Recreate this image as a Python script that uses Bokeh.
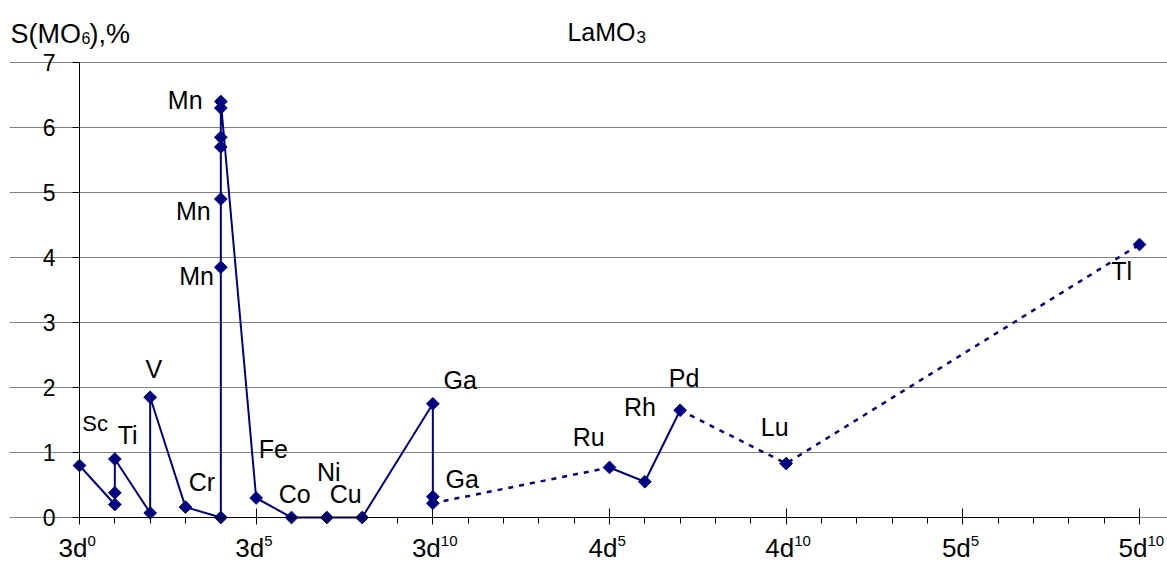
import numpy as np
from bokeh.plotting import figure
from bokeh.models import ColumnDataSource, FixedTicker, Range1d, LinearAxis, Grid
from bokeh.core.properties import value
from bokeh.embed import file_html
from bokeh.resources import INLINE

# ---------------- data ----------------
# position on the d-electron configuration axis (0 = 3d0 ... 30 = 5d10)
config_pos = [0, 1, 1, 1, 2, 2, 3, 4, 4, 4, 4, 4, 4, 4, 5, 6, 7, 8, 10, 10, 10, 15, 16, 17, 20, 30]
s_mo6 = [0.80, 0.20, 0.38, 0.90, 0.07, 1.85, 0.16, 0.00, 3.85, 4.90, 5.70, 5.85, 6.30, 6.40,
         0.30, 0.00, 0.00, 0.00, 1.75, 0.32, 0.22, 0.77, 0.55, 1.65, 0.83, 4.20]
# style of the link between consecutive points
link_style = ["solid"] * 20 + ["dotted"] + ["solid"] * 2 + ["dotted"] * 2

x_tick_pos = [0, 5, 10, 15, 20, 25, 30]
x_tick_main = ["3d", "3d", "3d", "4d", "4d", "5d", "5d"]
x_tick_sup = ["0", "5", "10", "5", "10", "5", "10"]
y_ticks = [0, 1, 2, 3, 4, 5, 6, 7]

elem_text = ["Sc", "Ti", "V", "Cr", "Mn", "Mn", "Mn", "Fe", "Co", "Ni", "Cu",
             "Ga", "Ga", "Ru", "Rh", "Pd", "Lu", "Tl"]
# left edge / vertical centre of each element label, in data units
elem_x = [0.08, 1.08, 1.87, 3.09, 2.50, 2.73, 2.82, 5.07, 5.64, 6.72, 7.08,
          10.30, 10.36, 13.96, 15.41, 16.68, 19.28, 29.20]
elem_y = [1.45, 1.27, 2.29, 0.55, 6.42, 4.71, 3.71, 1.05, 0.36, 0.70, 0.36,
          2.12, 0.59, 1.24, 1.70, 2.15, 1.39, 3.80]
elem_size = ["22px"] + ["25px"] * 17

# ---------------- layout / style ----------------
NAVY = "#000080"
FONT = "Liberation Sans"
W, H = 1167, 562
BORDER_L, BORDER_T = 9, 12
AX_X0, AX_X1 = 79, 1139      # pixel columns of x = 0 and x = 30
AX_Y0, AX_Y7 = 517, 62       # pixel rows of y = 0 and y = 7
kx = (AX_X1 - AX_X0) / 30.0
ky = (AX_Y0 - AX_Y7) / 7.0
x_rng = Range1d(-(AX_X0 - BORDER_L) / kx, 30 + (W - AX_X1) / kx)
y_rng = Range1d(-(H - AX_Y0) / ky, 7 + (AX_Y7 - BORDER_T) / ky)

p = figure(width=W, height=H, output_backend="svg", toolbar_location=None,
           x_range=x_rng, y_range=y_rng,
           x_axis_location=None, y_axis_location=None,
           min_border_left=BORDER_L, min_border_right=0, min_border_top=BORDER_T,
           min_border_bottom=0)
p.outline_line_color = None
p.background_fill_color = "white"
p.border_fill_color = "white"
p.xgrid.visible = False
p.ygrid.visible = False

# y axis, fixed at x = 0
yax = LinearAxis(ticker=FixedTicker(ticks=y_ticks), bounds=(0, 7), fixed_location=0)
yax.axis_line_color = "black"
yax.major_tick_line_color = "black"
yax.major_tick_in = 0
yax.major_tick_out = 7
yax.minor_tick_line_color = None
yax.major_label_text_color = None
yax.major_label_standoff = 0
p.add_layout(yax, "left")

# x axis, fixed at y = 0 (placed in the top panel, so "out" points up)
xax = LinearAxis(ticker=FixedTicker(ticks=x_tick_pos, minor_ticks=list(range(0, 31))),
                 bounds=(0, 30), fixed_location=0)
xax.axis_line_color = "black"
xax.major_tick_line_color = "black"
xax.major_tick_out = 9
xax.major_tick_in = 7
xax.minor_tick_line_color = "black"
xax.minor_tick_out = 0
xax.minor_tick_in = 6
xax.major_label_text_color = None
xax.major_label_standoff = 0
p.add_layout(xax, "above")

grid = Grid(dimension=1, ticker=FixedTicker(ticks=y_ticks), bounds=(0, 30),
            grid_line_color="#808080", grid_line_width=1)
p.add_layout(grid)

# y tick labels
p.text(x=[0] * len(y_ticks), y=y_ticks, text=[str(t) for t in y_ticks],
       x_offset=-24, text_align="right", text_baseline="middle",
       text_font=value(FONT), text_font_size="23px", text_color="black")

# x tick labels with superscripts
p.text(x=x_tick_pos, y=[0] * len(x_tick_pos), text=x_tick_main,
       x_offset=8, y_offset=30, text_align="right", text_baseline="middle",
       text_font=value(FONT), text_font_size="26px", text_color="black")
p.text(x=x_tick_pos, y=[0] * len(x_tick_pos), text=x_tick_sup,
       x_offset=8, y_offset=23, text_align="left", text_baseline="middle",
       text_font=value(FONT), text_font_size="15px", text_color="black")

# lines
start = 0
for i in range(1, len(link_style) + 1):
    if i == len(link_style) or link_style[i] != link_style[start]:
        xs = config_pos[start:i + 1]
        ys = s_mo6[start:i + 1]
        if link_style[start] == "solid":
            p.line(xs, ys, line_color=NAVY, line_width=2)
        else:
            p.line(xs, ys, line_color=NAVY, line_width=2.5, line_dash="5 6")
        start = i

src = ColumnDataSource(dict(x=config_pos, y=s_mo6))
p.scatter("x", "y", source=src, marker="square", size=9, angle=np.pi / 4,
          fill_color=NAVY, line_color=NAVY)

# element labels
lab_src = ColumnDataSource(dict(x=elem_x, y=elem_y, t=elem_text, s=elem_size))
p.text("x", "y", text="t", source=lab_src, text_font=value(FONT), text_font_size="s",
       text_align="left", text_baseline="middle", text_color="black")

# title LaMO3
p.text(x=[15], y=[7], text=["LaMO"], x_offset=26, y_offset=-31, text_align="right",
       text_baseline="middle", text_font=value(FONT), text_font_size="25px",
       text_color="black")
p.text(x=[15], y=[7], text=["3"], x_offset=27, y_offset=-26, text_align="left",
       text_baseline="middle", text_font=value(FONT), text_font_size="17px",
       text_color="black")

# y axis title S(MO6),%
p.text(x=[0], y=[7], text=["S(MO"], x_offset=-69, y_offset=-29, text_align="left",
       text_baseline="middle", text_font=value(FONT), text_font_size="27px",
       text_color="black")
p.text(x=[0], y=[7], text=["6"], x_offset=2, y_offset=-25, text_align="left",
       text_baseline="middle", text_font=value(FONT), text_font_size="16px",
       text_color="black")
p.text(x=[0], y=[7], text=["),%"], x_offset=10, y_offset=-29, text_align="left",
       text_baseline="middle", text_font=value(FONT), text_font_size="27px",
       text_color="black")

open("out.html", "w").write(file_html(p, INLINE))
